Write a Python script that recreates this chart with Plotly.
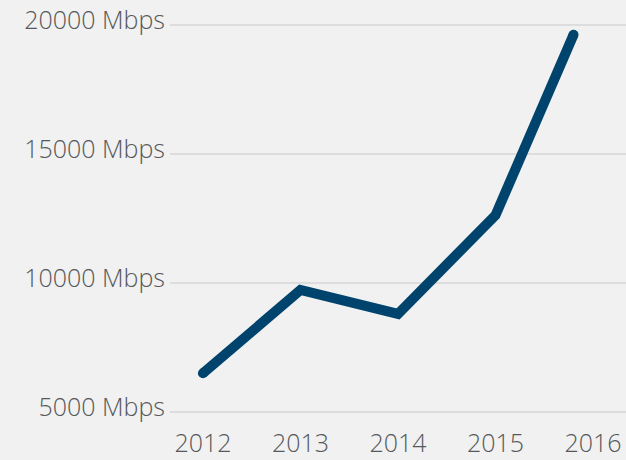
import plotly.graph_objects as go

years = [2012, 2013, 2014, 2015, 2015.8]
speeds = [6500, 9730, 8800, 12630, 19620]
x_ticks = [2012, 2013, 2014, 2015, 2016]
x_labels = ["2012", "2013", "2014", "2015", "2016"]
y_ticks = [5000, 10000, 15000, 20000]
y_labels = ["5000 Mbps", "10000 Mbps", "15000 Mbps", "20000 Mbps"]

fig = go.Figure()
fig.add_trace(go.Scatter(
    x=years, y=speeds, mode="lines+markers",
    line=dict(color="#00446e", width=10),
    marker=dict(color="#00446e", size=[10, 0, 0, 0, 10], opacity=1,
                line=dict(width=0)),
    hoverinfo="skip",
))

font = dict(family="Open Sans, sans-serif", size=25, color="#56585b", weight=350)
fig.update_layout(
    width=626, height=460,
    margin=dict(l=170, r=0, t=10, b=35),
    paper_bgcolor="#f0f1f0", plot_bgcolor="#f0f1f0",
    showlegend=False,
    font=font,
)
fig.update_xaxes(
    range=[2011.662, 2016.338], tickvals=x_ticks, ticktext=x_labels,
    showgrid=False, zeroline=False, showline=False, ticks="", tickfont=font,
    ticklabelstandoff=1, automargin=False,
)
fig.update_yaxes(
    range=[4496, 20581], tickvals=y_ticks, ticktext=y_labels,
    showgrid=True, gridcolor="#dcdddc", gridwidth=1.5, zeroline=False,
    showline=False, ticks="", ticklabelstandoff=4, ticklabelshift=-5,
    tickfont=font, automargin=False,
)
fig.write_html("out.html", config={"displayModeBar": False},
               post_script="document.body.style.margin='0';")
